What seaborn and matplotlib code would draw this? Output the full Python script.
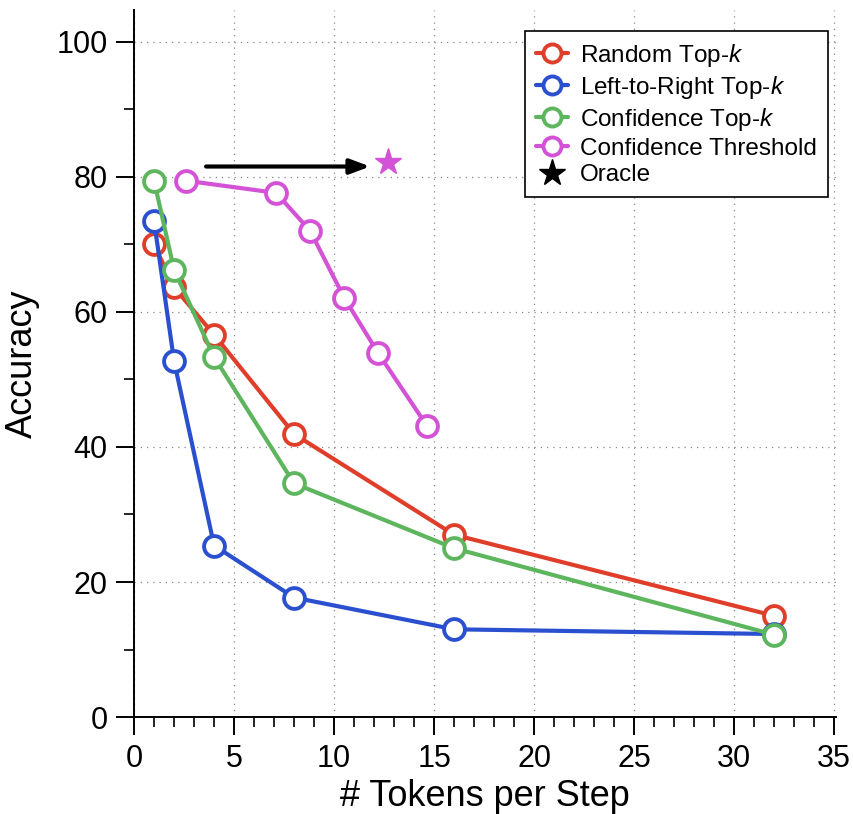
import numpy as np
import pandas as pd
import matplotlib.pyplot as plt
import seaborn as sns
from matplotlib.lines import Line2D
from matplotlib.ticker import MultipleLocator

# data
tokens = [1, 2, 4, 8, 16, 32]
random_topk = [70.0, 63.6, 56.6, 41.9, 27.0, 15.0]
l2r_topk = [73.4, 52.7, 25.4, 17.7, 13.0, 12.3]
conf_topk = [79.4, 66.2, 53.3, 34.6, 25.0, 12.2]
thresh_tokens = [2.6, 7.1, 8.8, 10.5, 12.2, 14.65]
thresh_acc = [79.4, 77.6, 72.0, 62.1, 53.9, 43.1]
oracle_x, oracle_y = 12.7, 82.2
arrow_start = 3.6

names = ["Random Top-$k$", "Left-to-Right Top-$k$", "Confidence Top-$k$", "Confidence Threshold"]
colors = ["#DF3F2A", "#2A4FCF", "#5DB65D", "#D452D6"]

df = pd.concat([
    pd.DataFrame({"tokens": tokens, "acc": random_topk, "method": names[0]}),
    pd.DataFrame({"tokens": tokens, "acc": l2r_topk, "method": names[1]}),
    pd.DataFrame({"tokens": tokens, "acc": conf_topk, "method": names[2]}),
    pd.DataFrame({"tokens": thresh_tokens, "acc": thresh_acc, "method": names[3]}),
])

sns.set_style("ticks")
plt.rcParams['font.family'] = ['Liberation Sans', 'DejaVu Sans']
plt.rcParams['mathtext.fontset'] = 'custom'
plt.rcParams['mathtext.it'] = 'Liberation Sans:italic'
plt.rcParams['mathtext.rm'] = 'Liberation Sans'
plt.rcParams['text.color'] = 'black'
plt.rcParams['axes.labelcolor'] = 'black'
plt.rcParams['xtick.color'] = 'black'
plt.rcParams['ytick.color'] = 'black'

fig = plt.figure(figsize=(8.54, 8.14), dpi=100)
ax = fig.add_axes([0.157, 0.119, 0.822, 0.869])

# gridlines first so they sit under the lines
ax.set_axisbelow(True)
ax.grid(True, which="major", linestyle=(0, (1, 4)), color="#888888", linewidth=0.9)

for name, c in zip(names, colors):
    sub = df[df["method"] == name]
    sns.lineplot(data=sub, x="tokens", y="acc", ax=ax, color=c, linewidth=3.0,
                 marker="o", markersize=15, markerfacecolor="white",
                 markeredgecolor=c, markeredgewidth=2.8, sort=False, zorder=3)

ax.annotate("", xy=(oracle_x - 0.9, oracle_y - 0.7), xytext=(arrow_start, oracle_y - 0.7),
            arrowprops=dict(arrowstyle="-|>,head_length=1.2,head_width=0.45",
                            color="black", lw=3, shrinkA=0, shrinkB=0), zorder=4)
ax.plot([oracle_x], [oracle_y], marker="*", color=colors[3], markersize=20, zorder=4,
        linestyle="none")

ax.set_xlim(0, 35.1)
ax.set_ylim(0, 104.7)
ax.xaxis.set_major_locator(MultipleLocator(5))
ax.xaxis.set_minor_locator(MultipleLocator(1))
ax.yaxis.set_major_locator(MultipleLocator(20))
ax.yaxis.set_minor_locator(MultipleLocator(10))
ax.tick_params(which="major", length=13, width=1.4, labelsize=22)
ax.tick_params(which="minor", length=7, width=1.2)
ax.tick_params(axis="x", pad=6)
ax.tick_params(axis="y", pad=6)

for s in ["top", "right"]:
    ax.spines[s].set_visible(False)
for s in ["left", "bottom"]:
    ax.spines[s].set_linewidth(1.4)
    ax.spines[s].set_color("black")

ax.set_xlabel("# Tokens per Step", fontsize=26, labelpad=4)
ax.set_ylabel("Accuracy", fontsize=26, labelpad=12)

handles = [Line2D([0], [0], color=c, linewidth=3.0, marker="o", markersize=13,
                  markerfacecolor="white", markeredgecolor=c, markeredgewidth=2.8)
           for c in colors]
handles.append(Line2D([0], [0], color="black", marker="*", markersize=20, linestyle="none"))
leg = ax.legend(handles, names + ["Oracle"], loc="upper right",
                bbox_to_anchor=(828 / 854, 1 - 31 / 814), bbox_transform=fig.transFigure,
                borderaxespad=0, fontsize=17.5, frameon=True, fancybox=False, framealpha=1,
                edgecolor="black", handlelength=1.3, handletextpad=0.5,
                labelspacing=0.2, borderpad=0.45)
leg.get_frame().set_linewidth(1.2)

plt.savefig("out.png", dpi=100)
